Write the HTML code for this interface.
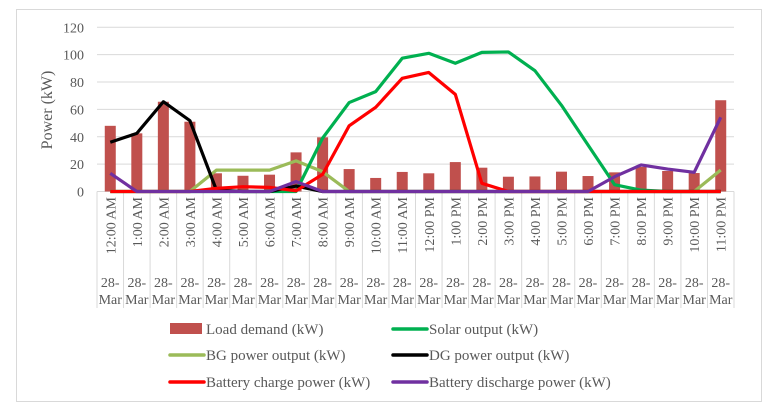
<!DOCTYPE html>
<html><head><meta charset="utf-8"><style>
body{margin:0;background:#fff;width:774px;height:413px;overflow:hidden}
svg text{font-family:"Liberation Serif",serif;fill:#595959}
</style></head><body>
<svg width="774" height="413">
<rect x="16.5" y="9.5" width="745" height="392" fill="#fff" stroke="#d9d9d9"/>
<g id="grid"></g><g id="xaxis"></g><g id="bars"></g><g id="lines"></g>
<text x="0" y="0" transform="translate(52,110) rotate(-90)" text-anchor="middle" font-size="16">Power (kW)</text>
<g id="legend"></g>
</svg>
<script>
const categories=["12:00 AM","1:00 AM","2:00 AM","3:00 AM","4:00 AM","5:00 AM","6:00 AM","7:00 AM","8:00 AM","9:00 AM","10:00 AM","11:00 AM","12:00 PM","1:00 PM","2:00 PM","3:00 PM","4:00 PM","5:00 PM","6:00 PM","7:00 PM","8:00 PM","9:00 PM","10:00 PM","11:00 PM"];
const loadDemand=[48,42.5,65.6,51,13.3,11.5,12.3,28.6,39.6,16.4,9.9,14.3,13.3,21.5,17.4,10.8,11,14.5,11.3,14,18,15,13.5,66.7];
const solarOutput=[0,0,0,0,0,0,0,0,39,65,73,97.4,101,93.7,101.7,102,88.3,63,34,5,1,0,0,0];
const bgOutput=[0,0,0,0,15.6,15.6,15.6,22.4,14.5,0,0,0,0,0,0,0,0,0,0,0,0,0,0,15.7];
const dgOutput=[36,42.5,65.6,51.8,1,0,0,4,0,0,0,0,0,0,0,0,0,0,0,0,0,0,0,0];
const chargePower=[0,0,0,0,2.3,3.5,3,0.5,12.5,48,61.5,82.7,87,71,6,0,0,0,0,0,0,0,0,0];
const dischargePower=[13.3,0,0,0,0,0,0,7.2,0,0,0,0,0,0,0,0,0,0,0,10.8,19.4,16.4,14,54.2];
const yTicks=[0,20,40,60,80,100,120];
const NS="http://www.w3.org/2000/svg";
const X0=97,X1=734,Y0=191.5,Y1=27.3,YMAX=120;
const bw=(X1-X0)/categories.length;
const xc=i=>X0+(i+0.5)*bw;
const y=v=>Y0-(v/YMAX)*(Y0-Y1);
function mk(tag,attrs,parent,txt){const e=document.createElementNS(NS,tag);for(const k in attrs)e.setAttribute(k,attrs[k]);if(txt!==undefined)e.textContent=txt;parent.appendChild(e);return e;}
const grid=document.getElementById('grid');
yTicks.forEach(t=>{
  const l=mk('line',{x1:X0,x2:X1,y1:y(t),y2:y(t),stroke:'#d9d9d9','stroke-width':1},grid);
  
  
  const tx=mk('text',{x:84,y:y(t)+5,'text-anchor':'end','font-size':14},grid,String(t));
  
  
});
const xa=document.getElementById('xaxis');
for(let i=0;i<=categories.length;i++){
  const l=mk('line',{x1:X0+i*bw,x2:X0+i*bw,y1:Y0,y2:308,stroke:'#d9d9d9'},xa);
  
  
}
categories.forEach((c,i)=>{
  const t=mk('text',{transform:`translate(${xc(i)+5},197) rotate(-90)`,'text-anchor':'end','font-size':14},xa,c);
  
  
  const d=mk('text',{x:xc(i),y:287,'text-anchor':'middle','font-size':14},xa,'28-');
  
  
  const m=mk('text',{x:xc(i),y:304,'text-anchor':'middle','font-size':14},xa,'Mar');
  
  
});
const bars=document.getElementById('bars');
loadDemand.forEach((v,i)=>{
  const r=mk('rect',{x:xc(i)-5.5,y:y(v),width:11,height:Y0-y(v),fill:'#c0504d'},bars);
  
  
});
const series=[[bgOutput,'#9bbb59','bg-line'],[solarOutput,'#00b050','solar-line'],[dgOutput,'#000000','dg-line'],[chargePower,'#ff0000','charge-line'],[dischargePower,'#7030a0','discharge-line']];
const lines=document.getElementById('lines');
series.forEach(([d,c,n])=>{
  const p=mk('polyline',{points:d.map((v,i)=>xc(i)+','+y(v)).join(' '),fill:'none',stroke:c,'stroke-width':3.2,'stroke-linejoin':'round'},lines);
  
  
});
const legendItems=[['Load demand (kW)','#c0504d',true,170,329],['Solar output (kW)','#00b050',false,393,329],['BG power output (kW)','#9bbb59',false,170,355],['DG power output (kW)','#000000',false,393,355],['Battery charge power (kW)','#ff0000',false,170,382],['Battery discharge power (kW)','#7030a0',false,393,382]];
const lg=document.getElementById('legend');
legendItems.forEach(([t,c,bar,lx,ly])=>{
  const g=mk('g',{},lg);
  
  
  if(bar)mk('rect',{x:lx,y:ly-6,width:32,height:11,fill:c},g);
  else mk('line',{x1:lx,x2:lx+34,y1:ly,y2:ly,stroke:c,'stroke-width':3.5,'stroke-linecap':'round'},g);
  mk('text',{x:lx+36,y:ly+5,'font-size':15},g,t);
});
</script>
</body></html>
